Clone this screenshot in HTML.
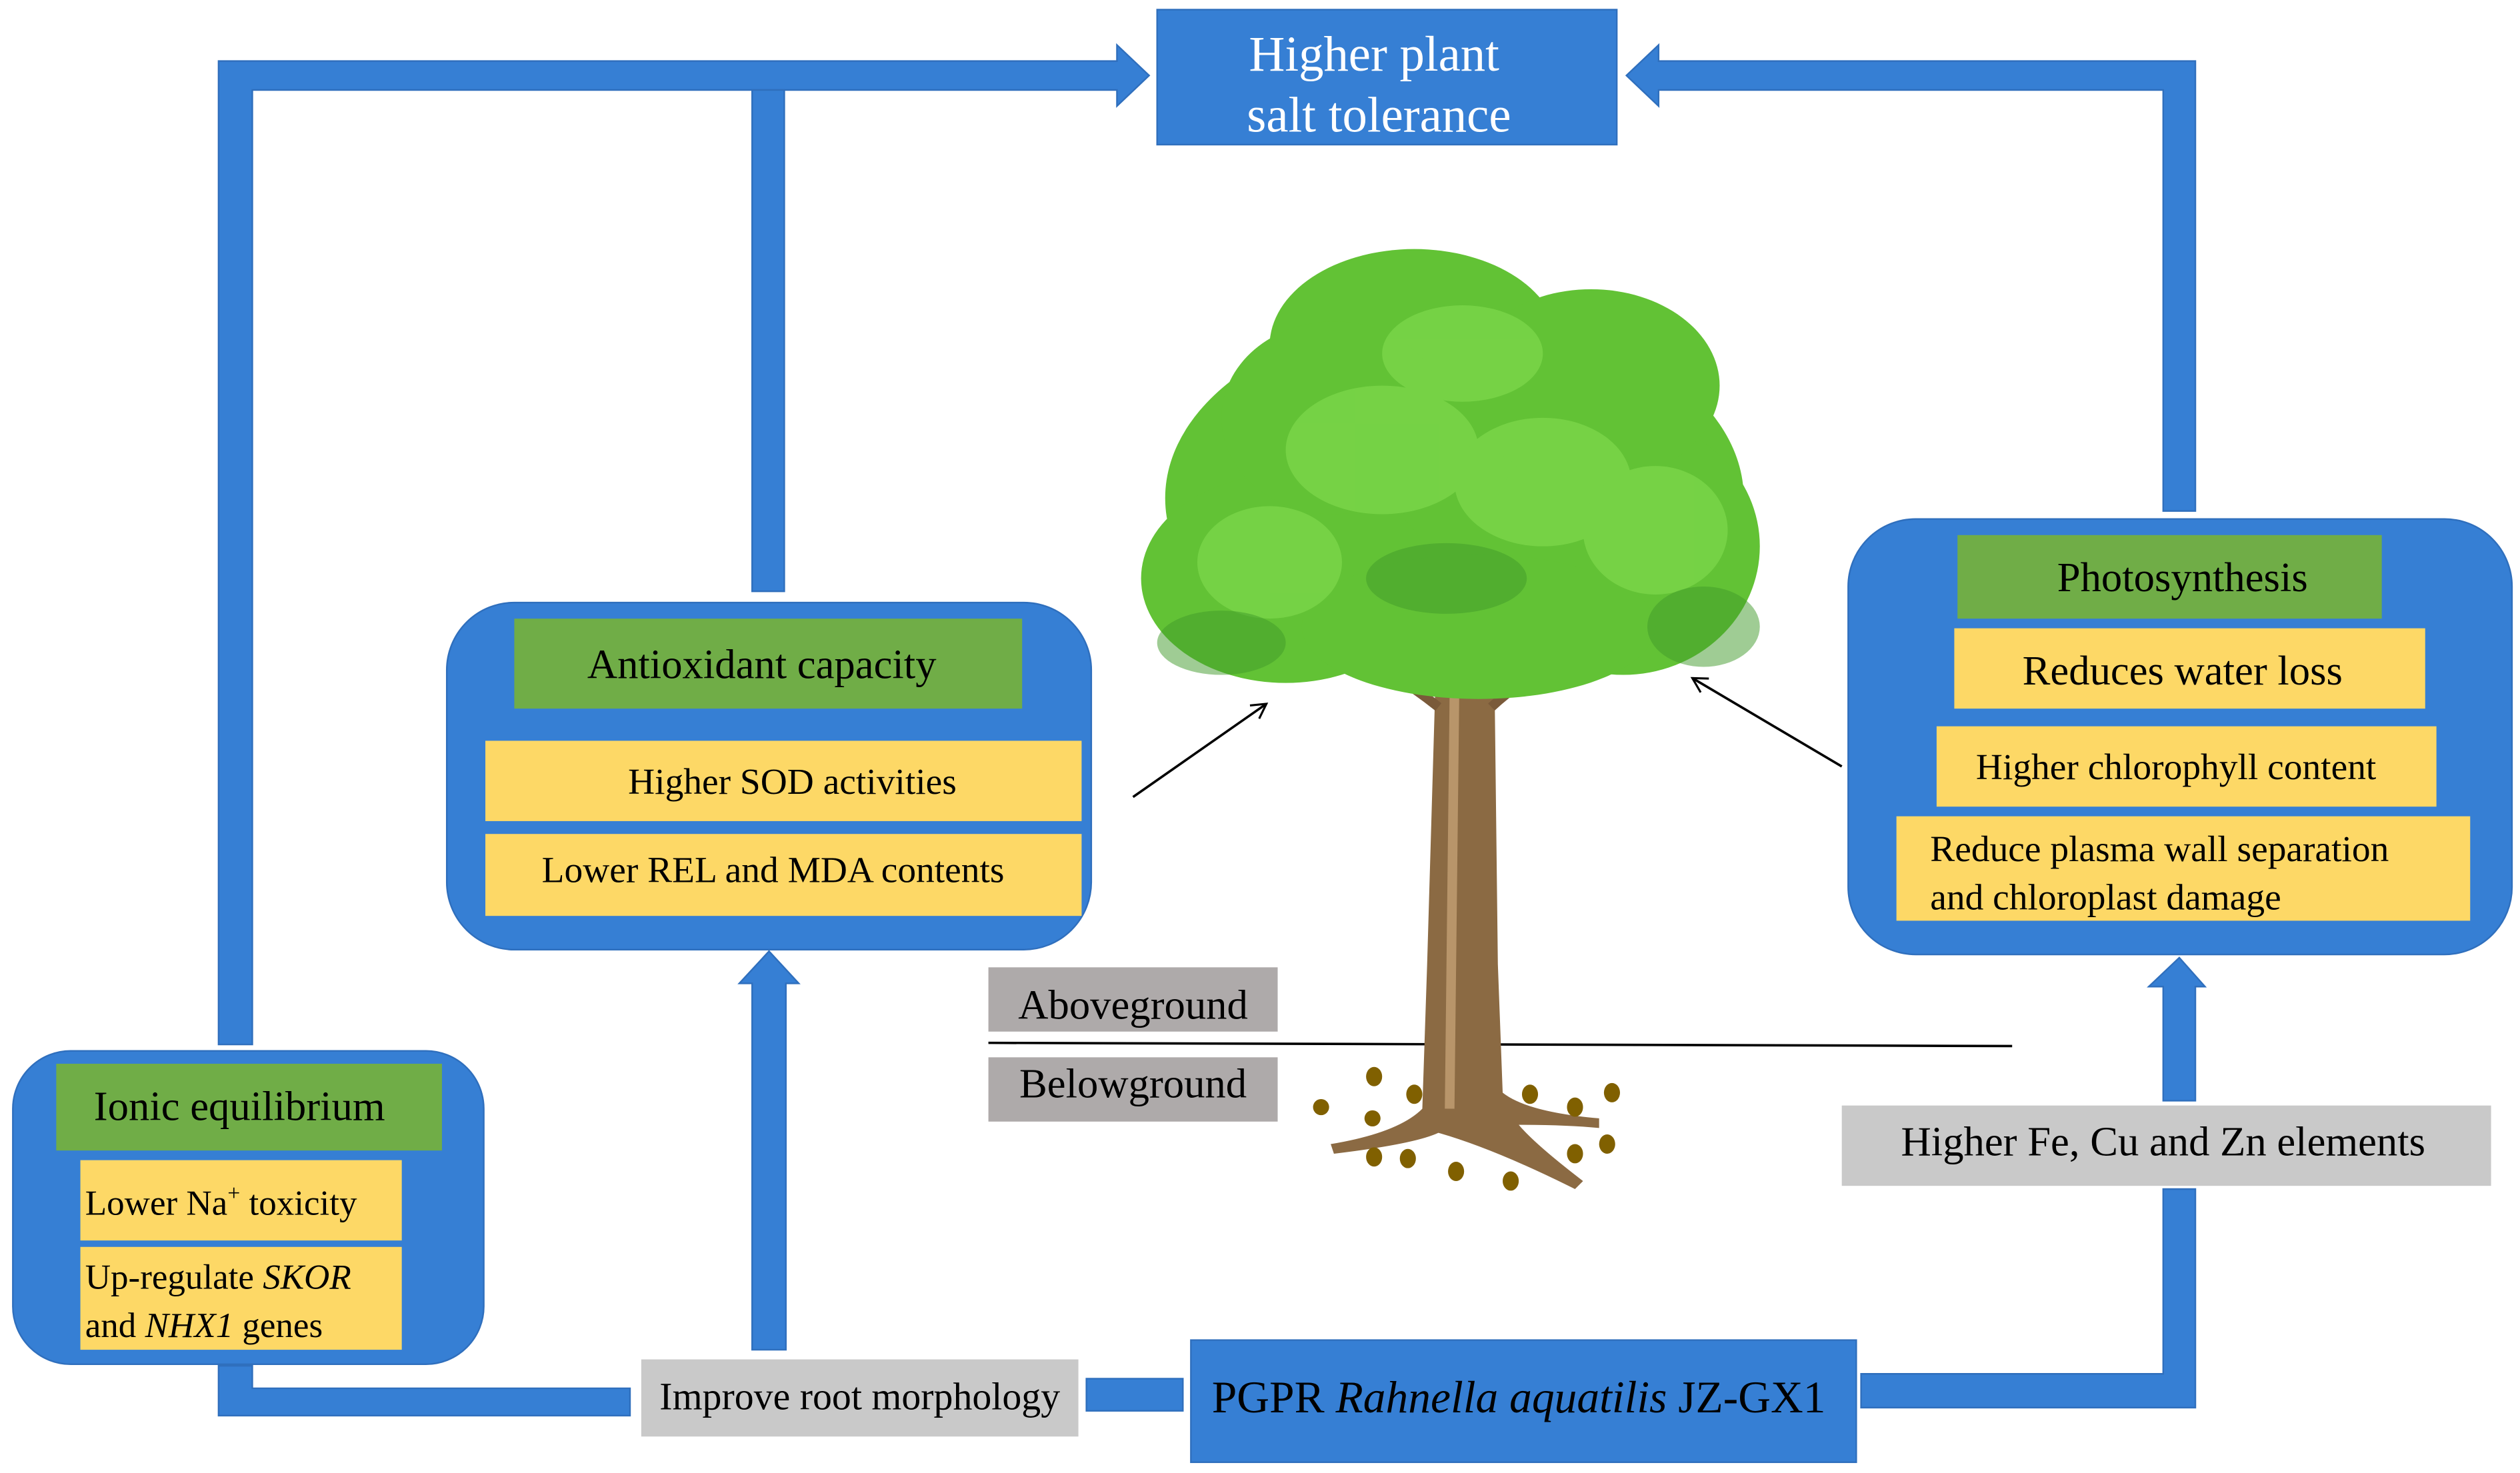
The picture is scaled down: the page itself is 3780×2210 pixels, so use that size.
<!DOCTYPE html>
<html><head><meta charset="utf-8"><style>html,body{margin:0;padding:0;background:#fff}svg{display:block}svg text{font-family:"Liberation Serif","Times New Roman",serif}</style></head>
<body>
<svg width="3780" height="2210" viewBox="0 0 1568 916.7" preserveAspectRatio="none" xmlns="http://www.w3.org/2000/svg">
<defs>
<marker id="ah" markerWidth="12" markerHeight="12" refX="10" refY="6" orient="auto" markerUnits="userSpaceOnUse"><path d="M1,1 L10,6 L1,11" fill="none" stroke="#000" stroke-width="1.3"/></marker>
</defs>
<g fill="#367fd4" stroke="#2f6fbd" stroke-width="1">
<rect x="720" y="6" width="286" height="84"/>
<path d="M136,38 L695,38 L695,28 L715,47 L695,66 L695,56 L157,56 L157,650 L136,650 Z"/>
<rect x="468" y="56" width="20" height="312"/>
<path d="M1366,38 L1032,38 L1032,28 L1012,47 L1032,66 L1032,56 L1346,56 L1346,318 L1366,318 Z"/>
<rect x="278" y="375" width="401" height="216" rx="42"/>
<path d="M468,840 L468,612 L460,612 L478.5,592 L497,612 L489,612 L489,840 Z"/>
<rect x="1150" y="323" width="413" height="271" rx="42"/>
<path d="M1346,685 L1346,614 L1337,614 L1356,596 L1372,614 L1366,614 L1366,685 Z"/>
<path d="M1346,740 L1366,740 L1366,876 L1158,876 L1158,855 L1346,855 Z"/>
<rect x="741" y="834" width="414" height="76"/>
<rect x="676" y="858" width="60" height="20"/>
<rect x="8" y="654" width="293" height="195" rx="36"/>
<path d="M136,850 L157,850 L157,864 L392,864 L392,881 L136,881 Z"/>
</g>
<text x="855" y="44" text-anchor="middle" font-size="31" fill="#fff">Higher plant</text>
<text x="858" y="82" text-anchor="middle" font-size="31" fill="#fff">salt tolerance</text>

<rect x="320" y="385" width="316" height="56" fill="#70ad47"/>
<text x="474" y="422" text-anchor="middle" font-size="26" fill="#000">Antioxidant capacity</text>
<rect x="302" y="461" width="371" height="50" fill="#fdd866"/>
<text x="493" y="494" text-anchor="middle" font-size="23">Higher SOD  activities</text>
<rect x="302" y="519" width="371" height="51" fill="#fdd866"/>
<text x="481" y="549" text-anchor="middle" font-size="23">Lower REL and MDA contents</text>

<rect x="1218" y="333" width="264" height="52" fill="#70ad47"/>
<text x="1358" y="368" text-anchor="middle" font-size="26">Photosynthesis</text>
<rect x="1216" y="391" width="293" height="50" fill="#fdd866"/>
<text x="1358" y="426" text-anchor="middle" font-size="26">Reduces water loss</text>
<rect x="1205" y="452" width="311" height="50" fill="#fdd866"/>
<text x="1354" y="485" text-anchor="middle" font-size="23">Higher chlorophyll content</text>
<rect x="1180" y="508" width="357" height="65" fill="#fdd866"/>
<text x="1201" y="536" font-size="23">Reduce plasma wall separation</text>
<text x="1201" y="566" font-size="23">and chloroplast damage</text>

<rect x="35" y="662" width="240" height="54" fill="#70ad47"/>
<text x="149" y="697" text-anchor="middle" font-size="26">Ionic equilibrium</text>
<rect x="50" y="722" width="200" height="50" fill="#fdd866"/>
<text x="53" y="756" font-size="22">Lower Na<tspan font-size="14" dy="-9">+</tspan><tspan dy="9"> toxicity</tspan></text>
<rect x="50" y="776" width="200" height="64" fill="#fdd866"/>
<text x="53" y="802" font-size="22">Up-regulate <tspan font-style="italic">SKOR</tspan></text>
<text x="53" y="832" font-size="22">and <tspan font-style="italic">NHX1</tspan> genes</text>

<rect x="615" y="602" width="180" height="40" fill="#aeaaaa"/>
<text x="705" y="634" text-anchor="middle" font-size="26">Aboveground</text>
<rect x="615" y="658" width="180" height="40" fill="#aeaaaa"/>
<text x="705" y="683" text-anchor="middle" font-size="26">Belowground</text>
<rect x="1146" y="688" width="404" height="50" fill="#c9c9c9"/>
<text x="1346" y="719" text-anchor="middle" font-size="26">Higher Fe, Cu and Zn elements</text>
<rect x="399" y="846" width="272" height="48" fill="#c9c9c9"/>
<text x="535" y="877" text-anchor="middle" font-size="24">Improve root morphology</text>
<text x="945" y="879" text-anchor="middle" font-size="28">PGPR <tspan font-style="italic">Rahnella aquatilis</tspan> JZ-GX1</text>

<line x1="615" y1="649" x2="1252" y2="651" stroke="#000" stroke-width="1.5"/>

<g>
<path d="M893,430 L888,600 L885,690 Q870,705 828,712 L830,718 Q880,712 895,705 Q930,715 980,740 L985,735 Q955,712 945,700 Q975,700 995,702 L995,696 Q950,692 935,680 L932,600 L930,430 Z" fill="#8b6a43"/>
<path d="M905,430 L902,690" stroke="#b8956a" stroke-width="6"/>
<path d="M895,440 Q870,420 840,405 M928,440 Q960,410 1010,400 M900,430 Q880,380 860,320 M925,430 Q940,350 960,300" stroke="#7a5a3a" stroke-width="6" fill="none"/>
<g fill="#62c235">
<ellipse cx="905" cy="310" rx="180" ry="115"/>
<ellipse cx="800" cy="360" rx="90" ry="65"/>
<ellipse cx="1010" cy="340" rx="85" ry="80"/>
<ellipse cx="880" cy="215" rx="90" ry="60"/>
<ellipse cx="990" cy="240" rx="80" ry="60"/>
<ellipse cx="830" cy="260" rx="70" ry="60"/>
<ellipse cx="920" cy="390" rx="110" ry="45"/>
</g>
<g fill="#7bd64a" opacity="0.8">
<ellipse cx="860" cy="280" rx="60" ry="40"/>
<ellipse cx="960" cy="300" rx="55" ry="40"/>
<ellipse cx="790" cy="350" rx="45" ry="35"/>
<ellipse cx="1030" cy="330" rx="45" ry="40"/>
<ellipse cx="910" cy="220" rx="50" ry="30"/>
</g>
<g fill="#3f9a2a" opacity="0.5">
<ellipse cx="760" cy="400" rx="40" ry="20"/>
<ellipse cx="1060" cy="390" rx="35" ry="25"/>
<ellipse cx="900" cy="360" rx="50" ry="22"/>
</g>
<g fill="#806000">
<ellipse cx="855" cy="670" rx="5" ry="6"/><ellipse cx="880" cy="681" rx="5" ry="6"/>
<ellipse cx="822" cy="689" rx="5" ry="5"/><ellipse cx="854" cy="696" rx="5" ry="5"/>
<ellipse cx="952" cy="681" rx="5" ry="6"/><ellipse cx="980" cy="689" rx="5" ry="6"/>
<ellipse cx="1003" cy="680" rx="5" ry="6"/><ellipse cx="855" cy="720" rx="5" ry="6"/>
<ellipse cx="876" cy="721" rx="5" ry="6"/><ellipse cx="906" cy="729" rx="5" ry="6"/>
<ellipse cx="940" cy="735" rx="5" ry="6"/><ellipse cx="980" cy="718" rx="5" ry="6"/>
<ellipse cx="1000" cy="712" rx="5" ry="6"/>
</g>
</g>

<line x1="705" y1="496" x2="788" y2="438" stroke="#000" stroke-width="1.5" marker-end="url(#ah)"/>
<line x1="1146" y1="477" x2="1053" y2="422" stroke="#000" stroke-width="1.5" marker-end="url(#ah)"/>
</svg>
</body></html>
